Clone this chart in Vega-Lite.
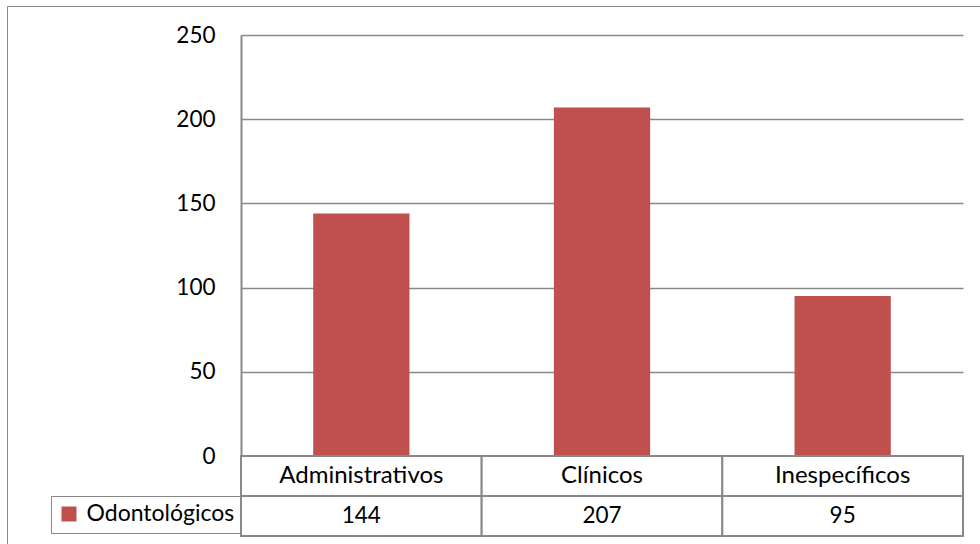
{
  "$schema": "https://vega.github.io/schema/vega-lite/v6.json",
  "background": "white",
  "autosize": {"type": "pad"},
  "padding": {"left": 6, "top": 5, "right": 0, "bottom": 0},
  "bounds": "flush",
  "spacing": 0,
  "config": {
    "view": {"stroke": null},
    "font": "Lato",
    "text": {"font": "Lato"}
  },
  "data": {
    "values": [
      {"categoria": "Administrativos", "valor": 144},
      {"categoria": "Clínicos", "valor": 207},
      {"categoria": "Inespecíficos", "valor": 95}
    ]
  },
  "vconcat": [
    {
      "width": 722,
      "height": 421,
      "layer": [
        {
          "mark": {"type": "bar"},
          "encoding": {
            "x": {
              "field": "categoria",
              "type": "nominal",
              "sort": null,
              "scale": {"paddingInner": 0.6, "paddingOuter": 0.3},
              "axis": null
            },
            "y": {
              "field": "valor",
              "type": "quantitative",
              "scale": {"domain": [0, 250], "nice": false},
              "axis": {
                "values": [0, 50, 100, 150, 200, 250],
                "title": null,
                "grid": true,
                "gridColor": "#898989",
                "gridWidth": 1.5,
                "domain": true,
                "domainColor": "#898989",
                "domainWidth": 2,
                "ticks": false,
                "labelPadding": 26,
                "labelFont": "Lato",
                "labelFontSize": 22.5,
                "labelColor": "black"
              }
            },
            "color": {
              "datum": "Odontológicos",
              "type": "nominal",
              "scale": {"range": ["#C0504D"]},
              "legend": {
                "orient": "none",
                "legendX": -190,
                "legendY": 461,
                "title": null,
                "symbolType": "square",
                "symbolSize": 225,
                "symbolStrokeWidth": 0,
                "labelFont": "Lato",
                "labelFontSize": 23,
                "labelColor": "black",
                "labelOffset": 6,
                "padding": 6.5,
                "strokeColor": "#898989"
              }
            }
          }
        },
        {
          "transform": [{"filter": "false"}],
          "mark": {"type": "point", "color": "transparent", "opacity": 0, "filled": false},
          "encoding": {
            "shape": {
              "datum": "marco",
              "type": "nominal",
              "scale": {"range": ["square"]},
              "legend": {
                "orient": "none",
                "legendX": -234,
                "legendY": -29,
                "title": null,
                "padding": 0,
                "symbolType": "square",
                "symbolSize": 291600,
                "symbolOpacity": 0,
                "symbolStrokeWidth": 0,
                "labelExpr": "''",
                "labelFontSize": 1,
                "labelOpacity": 0,
                "labelOffset": 445,
                "strokeColor": "#898989"
              }
            }
          }
        }
      ]
    },
    {
      "width": 722,
      "height": 80,
      "encoding": {
        "x": {
          "field": "categoria",
          "type": "nominal",
          "sort": null,
          "scale": {"paddingInner": 0, "paddingOuter": 0},
          "axis": null
        }
      },
      "layer": [
        {
          "mark": {"type": "rect", "fill": "white", "stroke": "#898989", "strokeWidth": 2},
          "encoding": {
            "y": {"datum": "fila1", "type": "nominal", "scale": {"domain": ["fila1", "fila2"], "paddingInner": 0, "paddingOuter": 0}, "axis": null}
          }
        },
        {
          "mark": {"type": "rect", "fill": "white", "stroke": "#898989", "strokeWidth": 2},
          "encoding": {
            "y": {"datum": "fila2", "type": "nominal"}
          }
        },
        {
          "mark": {"type": "text", "fontSize": 24, "font": "Lato", "color": "black", "baseline": "middle", "align": "center"},
          "encoding": {
            "y": {"datum": "fila1", "type": "nominal"},
            "text": {"field": "categoria", "type": "nominal"}
          }
        },
        {
          "mark": {"type": "text", "fontSize": 22.5, "font": "Lato", "color": "black", "baseline": "middle", "align": "center"},
          "encoding": {
            "y": {"datum": "fila2", "type": "nominal"},
            "text": {"field": "valor", "type": "quantitative"}
          }
        }
      ]
    }
  ]
}
